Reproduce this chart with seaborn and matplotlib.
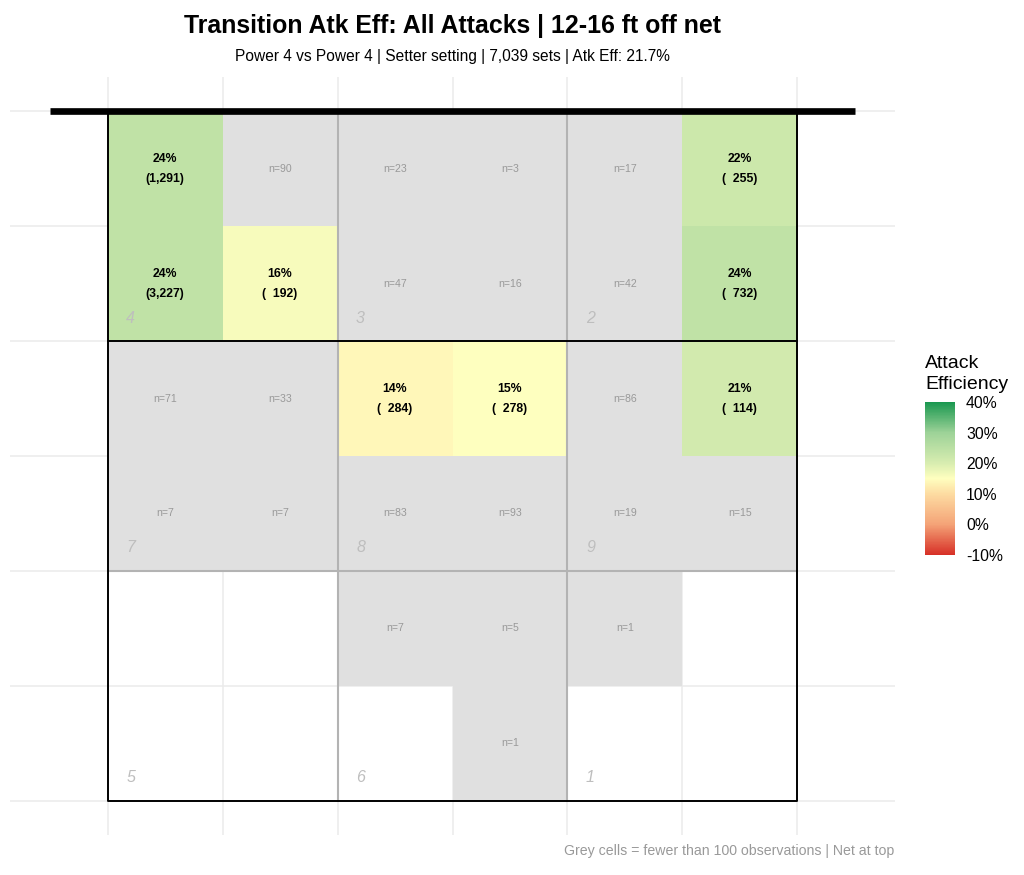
import numpy as np
import pandas as pd
import matplotlib
matplotlib.use("Agg")
import matplotlib.pyplot as plt
import seaborn as sns
from matplotlib.colors import LinearSegmentedColormap, ListedColormap

sns.set_style("white")
plt.rcParams['font.family'] = ['Liberation Sans', 'DejaVu Sans']
plt.rcParams['text.color'] = 'black'

# ------------------------------------------------------------
# Data: 6x6 court grid, rows listed from the net (top) to the back line
# ------------------------------------------------------------
n_counts = [
    [1291, 90, 23, 3, 17, 255],
    [3227, 192, 47, 16, 42, 732],
    [71, 33, 284, 278, 86, 114],
    [7, 7, 83, 93, 19, 15],
    [0, 0, 7, 5, 1, 0],
    [0, 0, 0, 1, 0, 0],
]
eff_pct = [
    [24, None, None, None, None, 22],
    [24, 16, None, None, None, 24],
    [None, None, 14, 15, None, 21],
    [None, None, None, None, None, None],
    [None, None, None, None, None, None],
    [None, None, None, None, None, None],
]
zone_names = ["4", "3", "2", "7", "8", "9", "5", "6", "1"]
min_obs = 100

title = "Transition Atk Eff: All Attacks | 12-16 ft off net"
subtitle = "Power 4 vs Power 4 | Setter setting | 7,039 sets | Atk Eff: 21.7%"
caption = "Grey cells = fewer than 100 observations | Net at top"
cbar_ticks = [-10, 0, 10, 20, 30, 40]

n_df = pd.DataFrame(n_counts)
eff_df = pd.DataFrame(eff_pct, dtype=float)
grey_df = pd.DataFrame(np.where((n_df > 0) & (n_df < min_obs), 1.0, np.nan))

# red -> pale yellow -> green scale
cmap = LinearSegmentedColormap.from_list("eff", [
    (0.00, "#D73027"),
    (0.20, "#F4A377"),
    (0.40, "#FDDCA2"),
    (0.50, "#FFFFBF"),
    (0.60, "#D8EDB0"),
    (0.80, "#9DD298"),
    (1.00, "#1A9850"),
])

W, H = 1024, 875
fig = plt.figure(figsize=(W / 100, H / 100), dpi=100)
ax = fig.add_axes([10 / W, 1 - 835 / H, 885 / W, 758 / H])
cax = fig.add_axes([925 / W, 1 - 555 / H, 30 / W, 153 / H])

# light background grid
for v in range(7):
    ax.axhline(v, color="#EBEBEB", lw=1.1, zorder=0)
    ax.axvline(v, color="#EBEBEB", lw=1.1, zorder=0)

sns.heatmap(grey_df, ax=ax, cmap=ListedColormap(["#E0E0E0"]), cbar=False,
            vmin=0, vmax=2, linewidths=0)
sns.heatmap(eff_df, ax=ax, cmap=cmap, vmin=-10, vmax=40, linewidths=0,
            cbar_ax=cax, cbar_kws={"ticks": cbar_ticks, "format": "%d%%"})
cbar = ax.collections[-1].colorbar

# cell labels
for r in range(6):
    for c in range(6):
        n = n_counts[r][c]
        e = eff_pct[r][c]
        if n >= min_obs and e is not None:
            ax.text(c + 0.5, r + 0.5, f"{e:.0f}%\n({n:>5,})", ha="center", va="center",
                    fontsize=8.8, fontweight="bold", color="black", linespacing=1.9)
        elif n > 0:
            ax.text(c + 0.5, r + 0.5, f"n={n}", ha="center", va="center",
                    fontsize=7.6, color="#999999")

# zone outlines and numbers
for k, z in enumerate(zone_names):
    x0, y1 = (k % 3) * 2, (k // 3) * 2 + 2
    ax.text(x0 + 0.2, y1 - 0.2, z, ha="center", va="center", fontsize=11.5,
            style="italic", color="#BEBEBE")
for v in [2, 4]:
    ax.plot([v, v], [0, 6], color="#B3B3B3", lw=1.5, zorder=3)
ax.plot([0, 6], [4, 4], color="#B3B3B3", lw=1.5, zorder=3)
ax.plot([0, 6], [2, 2], color="black", lw=1.4, zorder=4)
ax.plot([0, 6, 6, 0, 0], [0, 0, 6, 6, 0], color="black", lw=1.4, zorder=4)
ax.plot([-0.5, 6.5], [0, 0], color="black", lw=4.8, zorder=5, solid_capstyle="butt")

ax.set_xlim(-0.85, 6.85)
ax.set_ylim(6.3, -0.3)
ax.set_xticks([])
ax.set_yticks([])
ax.set_xlabel("")
ax.set_ylabel("")
for s in ax.spines.values():
    s.set_visible(False)

# colorbar styling
cax.tick_params(direction="in", color="white", length=4, width=0.8,
                left=True, right=True, labelsize=11.3, pad=8, labelcolor="black")
for s in cax.spines.values():
    s.set_visible(False)
if cbar is not None:
    cbar.outline.set_visible(False)
fig.text(925 / W, 1 - 355 / H, "Attack\nEfficiency", ha="left", va="top",
         fontsize=14, linespacing=1.3)

fig.text(452 / W, 1 - 26 / H, title, ha="center", va="center", fontsize=17.9,
         fontweight="bold")
fig.text(452 / W, 1 - 57 / H, subtitle, ha="center", va="center", fontsize=11.2)
fig.text(894 / W, 1 - 851 / H, caption, ha="right", va="center", fontsize=10.2,
         color="#999999")

fig.savefig("out.png", dpi=100)
